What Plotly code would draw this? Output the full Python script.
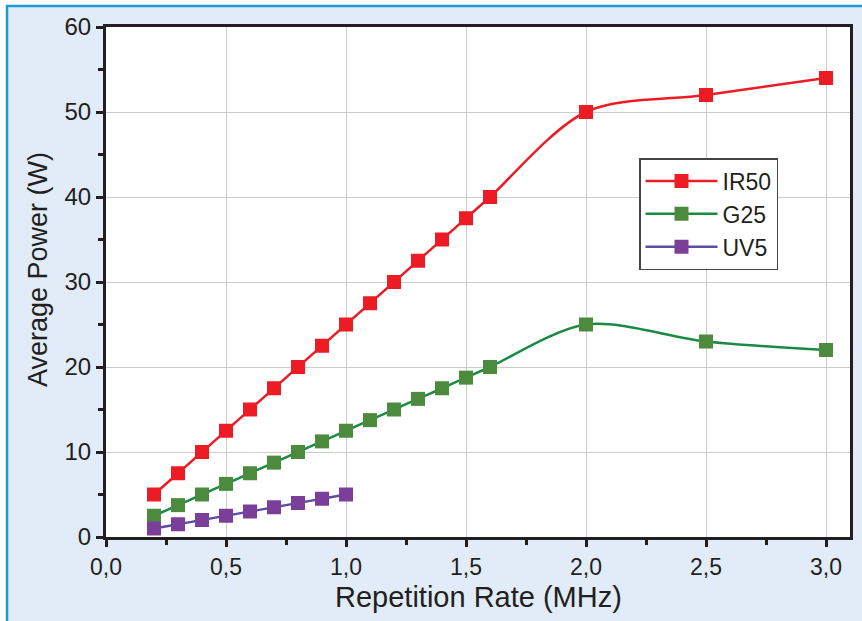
import plotly.graph_objects as go

ir_x = [0.2, 0.3, 0.4, 0.5, 0.6, 0.7, 0.8, 0.9, 1.0, 1.1, 1.2, 1.3, 1.4, 1.5, 1.6, 2.0, 2.5, 3.0]
ir_y = [5, 7.5, 10, 12.5, 15, 17.5, 20, 22.5, 25, 27.5, 30, 32.5, 35, 37.5, 40, 50, 52, 54]
g_x = [0.2, 0.3, 0.4, 0.5, 0.6, 0.7, 0.8, 0.9, 1.0, 1.1, 1.2, 1.3, 1.4, 1.5, 1.6, 2.0, 2.5, 3.0]
g_y = [2.5, 3.75, 5, 6.25, 7.5, 8.75, 10, 11.25, 12.5, 13.75, 15, 16.25, 17.5, 18.75, 20, 25, 23, 22]
uv_x = [0.2, 0.3, 0.4, 0.5, 0.6, 0.7, 0.8, 0.9, 1.0]
uv_y = [1, 1.5, 2, 2.5, 3, 3.5, 4, 4.5, 5]

x_tickvals = [0.0, 0.5, 1.0, 1.5, 2.0, 2.5, 3.0]
x_ticktext = ["0,0", "0,5", "1,0", "1,5", "2,0", "2,5", "3,0"]
y_tickvals = [0, 10, 20, 30, 40, 50, 60]

FONT = "Liberation Sans, Arial, sans-serif"
INK = "#231F20"

fig = go.Figure()
series = [
    ("IR50", ir_x, ir_y, "#ED1C24", "#ED1C24"),
    ("G25", g_x, g_y, "#1B8A45", "#4C8B3D"),
    ("UV5", uv_x, uv_y, "#5B4DA2", "#7B3F99"),
]
for name, xs, ys, lc, mc in series:
    fig.add_trace(go.Scatter(
        x=xs, y=ys, name=name, mode="lines+markers",
        line=dict(color=lc, width=2.5, shape="spline", smoothing=0.9),
        marker=dict(symbol="square", size=14, color=mc, line=dict(width=0)),
    ))

W, H = 862, 621
L, R, T, B = 106, 12, 27, 84
pw, ph = W - L - R, H - T - B

def px_x(p):
    return (p - L) / pw

def px_y(p):
    return (H - B - p) / ph

shapes = [
    dict(type="rect", xref="paper", yref="paper", x0=px_x(0), x1=px_x(6), y0=px_y(H), y1=px_y(0),
         fillcolor="white", line=dict(width=0), layer="below"),
    dict(type="rect", xref="paper", yref="paper", x0=px_x(0), x1=px_x(W), y0=px_y(5), y1=px_y(0),
         fillcolor="white", line=dict(width=0), layer="below"),
    dict(type="line", xref="paper", yref="paper", x0=px_x(7), x1=px_x(7), y0=px_y(H), y1=px_y(5),
         line=dict(color="#1E9BD7", width=2.5), layer="below"),
    dict(type="line", xref="paper", yref="paper", x0=px_x(6), x1=px_x(W), y0=px_y(6), y1=px_y(6),
         line=dict(color="#1E9BD7", width=2.5), layer="below"),
]

annotations = [
    dict(text="Repetition Rate (MHz)", xref="paper", yref="paper", x=px_x(478), y=px_y(597),
         xanchor="center", yanchor="middle", showarrow=False,
         font=dict(size=29, family=FONT, color=INK)),
    dict(text="Average Power (W)", xref="paper", yref="paper", x=px_x(38), y=px_y(270),
         xanchor="center", yanchor="middle", showarrow=False, textangle=-90,
         font=dict(size=27, family=FONT, color=INK)),
]

fig.update_layout(
    width=W, height=H,
    margin=dict(l=L, r=R, t=T, b=B, autoexpand=False),
    paper_bgcolor="#E1ECF8",
    plot_bgcolor="white",
    font=dict(family=FONT, color=INK),
    shapes=shapes,
    annotations=annotations,
    showlegend=True,
    legend=dict(
        x=px_x(639), y=px_y(158), xanchor="left", yanchor="top",
        bgcolor="white", bordercolor="#444444", borderwidth=1.5,
        font=dict(size=23, family=FONT, color=INK),
        itemwidth=72, tracegroupgap=0,
    ),
)
fig.update_xaxes(
    range=[0, 3.1], tickvals=x_tickvals, ticktext=x_ticktext, automargin=False,
    showgrid=True, gridcolor="#CCCCCC", gridwidth=1,
    showline=True, linecolor=INK, linewidth=3, mirror=True,
    ticks="outside", ticklen=7, tickwidth=3, tickcolor=INK,
    minor=dict(dtick=0.25, tick0=0, ticks="outside", ticklen=5, tickwidth=3, tickcolor=INK, showgrid=False),
    tickfont=dict(size=23, family=FONT, color=INK),
    zeroline=False,
)
fig.update_yaxes(
    range=[0, 60], tickvals=y_tickvals, automargin=False,
    showgrid=True, gridcolor="#CCCCCC", gridwidth=1,
    showline=True, linecolor=INK, linewidth=3, mirror=True,
    ticks="outside", ticklen=7, tickwidth=3, tickcolor=INK,
    minor=dict(dtick=5, tick0=0, ticks="outside", ticklen=5, tickwidth=3, tickcolor=INK, showgrid=False),
    tickfont=dict(size=24, family=FONT, color=INK),
    zeroline=False,
)

fig.write_html(
    "out.html",
    config={"displayModeBar": False},
    post_script="document.body.style.margin='0';document.body.style.padding='0';",
)
